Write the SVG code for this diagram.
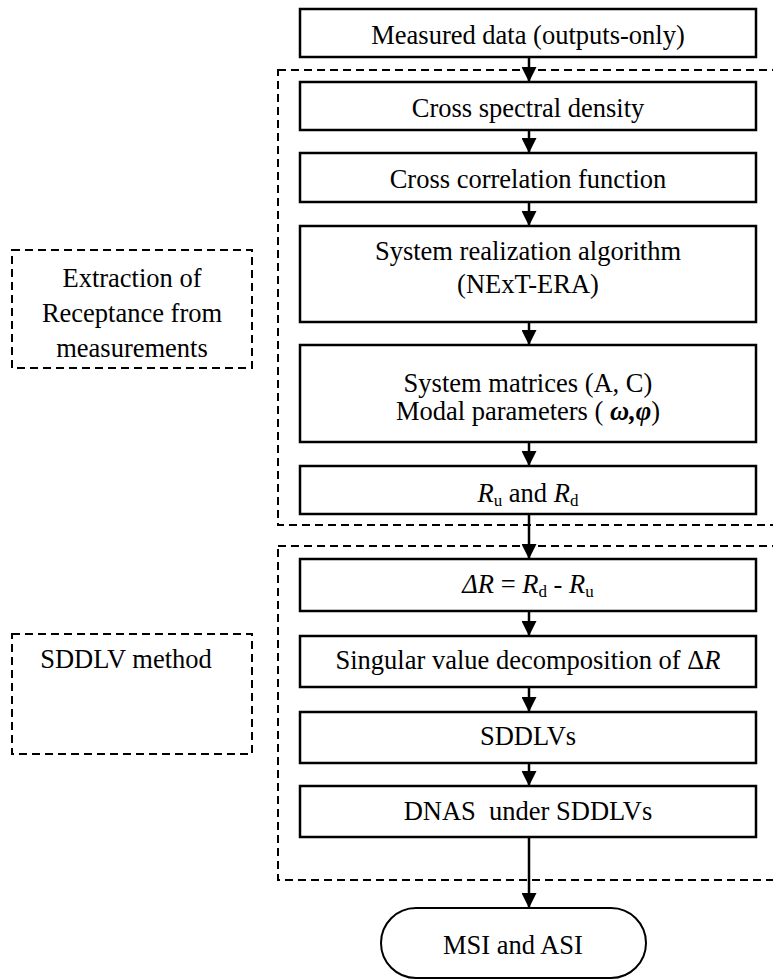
<svg xmlns="http://www.w3.org/2000/svg" width="773" height="980" viewBox="0 0 773 980">
  <defs>
    <marker id="arrow" markerWidth="15" markerHeight="15" refX="15" refY="7.5" orient="auto" markerUnits="userSpaceOnUse">
      <path d="M0,0 L15,7.5 L0,15 Z" fill="#000"/>
    </marker>
    <style>
      .box { fill: #fff; stroke: #000; stroke-width: 2.5; }
      .dash { fill: none; stroke: #000; stroke-width: 2; stroke-dasharray: 8 5; }
      .lbl { font-family: "Liberation Serif", "Times New Roman", serif; font-size: 26.5px; fill: #000; text-anchor: middle; }
      .it { font-style: italic; }
      .sub { font-size: 17px; font-style: normal; }
      .greek { font-weight: bold; font-style: italic; }
      .conn { stroke: #000; stroke-width: 2.5; fill: none; marker-end: url(#arrow); }
    </style>
  </defs>
  <rect width="773" height="980" fill="#fff"/>

  <!-- Group frames -->
  <g id="group-extraction">
    <rect class="dash" x="278" y="70" width="510" height="455"/>
  </g>
  <g id="group-sddlv">
    <rect class="dash" x="278" y="546" width="510" height="334"/>
  </g>

  <!-- Side captions -->
  <g id="caption-extraction">
    <rect class="dash" x="12" y="250" width="240" height="118"/>
    <text class="lbl" x="132" y="287">Extraction of</text>
    <text class="lbl" x="132" y="322">Receptance from</text>
    <text class="lbl" x="132" y="357">measurements</text>
  </g>
  <g id="caption-sddlv">
    <rect class="dash" x="12" y="634" width="240" height="120"/>
    <text class="lbl" x="126" y="668">SDDLV method</text>
  </g>

  <!-- Connectors -->
  <g id="connectors">
    <line class="conn" x1="529" y1="57" x2="529" y2="82"/>
    <line class="conn" x1="529" y1="130" x2="529" y2="153"/>
    <line class="conn" x1="529" y1="202" x2="529" y2="226"/>
    <line class="conn" x1="529" y1="322" x2="529" y2="345"/>
    <line class="conn" x1="529" y1="442" x2="529" y2="466"/>
    <line class="conn" x1="529" y1="514" x2="529" y2="559"/>
    <line class="conn" x1="529" y1="611" x2="529" y2="636"/>
    <line class="conn" x1="529" y1="687" x2="529" y2="712"/>
    <line class="conn" x1="529" y1="763" x2="529" y2="786"/>
    <line class="conn" x1="529" y1="837" x2="529" y2="908"/>
  </g>

  <!-- Process nodes -->
  <g id="measured-data">
    <rect class="box" x="300" y="9" width="456" height="48"/>
    <text class="lbl" x="528" y="44">Measured data (outputs-only)</text>
  </g>
  <g id="cross-spectral">
    <rect class="box" x="300" y="82" width="456" height="48"/>
    <text class="lbl" x="528" y="117">Cross spectral density</text>
  </g>
  <g id="cross-correlation">
    <rect class="box" x="300" y="153" width="456" height="49"/>
    <text class="lbl" x="528" y="188">Cross correlation function</text>
  </g>
  <g id="system-realization">
    <rect class="box" x="300" y="226" width="456" height="96"/>
    <text class="lbl" x="528" y="260">System realization algorithm</text>
    <text class="lbl" x="528" y="293">(NExT-ERA)</text>
  </g>
  <g id="system-matrices">
    <rect class="box" x="300" y="345" width="456" height="97"/>
    <text class="lbl" x="528" y="392">System matrices (A, C)</text>
    <text class="lbl" x="528" y="420">Modal parameters ( <tspan class="greek">ω,φ</tspan>)</text>
  </g>
  <g id="receptance">
    <rect class="box" x="300" y="466" width="456" height="48"/>
    <text class="lbl" x="528" y="502"><tspan class="it">R</tspan><tspan class="sub" dy="4">u</tspan><tspan dy="-4"> and </tspan><tspan class="it">R</tspan><tspan class="sub" dy="4">d</tspan></text>
  </g>
  <g id="delta-r">
    <rect class="box" x="300" y="559" width="456" height="52"/>
    <text class="lbl" x="528" y="593"><tspan class="it">ΔR</tspan> = <tspan class="it">R</tspan><tspan class="sub" dy="4">d</tspan><tspan dy="-4"> - </tspan><tspan class="it">R</tspan><tspan class="sub" dy="4">u</tspan></text>
  </g>
  <g id="svd">
    <rect class="box" x="300" y="636" width="456" height="51"/>
    <text class="lbl" x="528" y="669">Singular value decomposition of Δ<tspan class="it">R</tspan></text>
  </g>
  <g id="sddlvs">
    <rect class="box" x="300" y="712" width="456" height="51"/>
    <text class="lbl" x="528" y="745">SDDLVs</text>
  </g>
  <g id="dnas">
    <rect class="box" x="300" y="786" width="456" height="51"/>
    <text class="lbl" x="528" y="820">DNAS&#160; under SDDLVs</text>
  </g>

  <!-- Terminal node -->
  <g id="msi-asi">
    <rect x="381" y="908" width="265" height="70" rx="35" ry="35" fill="#fff" stroke="#000" stroke-width="2"/>
    <text class="lbl" x="513" y="954">MSI and ASI</text>
  </g>
</svg>
